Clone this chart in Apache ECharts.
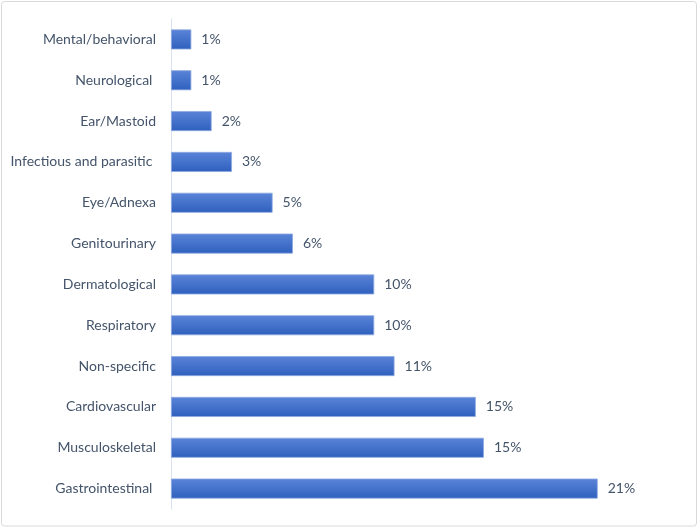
<!DOCTYPE html>
<html>
<head>
<meta charset="utf-8">
<script src="https://cdn.jsdelivr.net/npm/echarts@6/dist/echarts.min.js"></script>
<style>
html,body{margin:0;padding:0;background:#fff;}
#c{width:698px;height:528px;}
</style>
</head>
<body>
<div id="c"></div>
<script>
const categories = ["Mental/behavioral", "Neurological ", "Ear/Mastoid", "Infectious and parasitic ", "Eye/Adnexa", "Genitourinary", "Dermatological", "Respiratory", "Non-specific", "Cardiovascular", "Musculoskeletal", "Gastrointestinal "];
const values = [1, 1, 2, 3, 5, 6, 10, 10, 11, 15, 15.4, 21];

const chart = echarts.init(document.getElementById('c'));
chart.setOption({
  animation: false,
  graphic: [{
    type: 'rect',
    shape: {x: 1.5, y: 1.5, width: 695, height: 524.5, r: 3},
    style: {fill: 'none', stroke: '#d9d9d9', lineWidth: 1},
    silent: true
  }],
  grid: {left: 171, top: 19, width: 508, height: 490, containLabel: false},
  xAxis: {
    type: 'value', min: 0, max: 25, show: false,
    splitLine: {show: false}
  },
  yAxis: {
    type: 'category', data: categories, inverse: true,
    axisLine: {show: true, lineStyle: {color: '#d9e1f2', width: 1}},
    axisTick: {show: false},
    axisLabel: {color: '#44546a', fontFamily: 'Lato', fontSize: 14, margin: 15}
  },
  series: [{
    type: 'bar',
    data: values,
    barWidth: 20,
    itemStyle: {
      color: new echarts.graphic.LinearGradient(0, 0, 0, 1, [
        {offset: 0, color: '#5a84d8'},
        {offset: 1, color: '#2f60be'}
      ]),
      borderColor: '#8eaadf',
      borderWidth: 0.8
    },
    label: {
      show: true, position: 'right', distance: 10,
      color: '#44546a', fontFamily: 'Lato', fontSize: 14,
      formatter: p => Math.round(p.value) + '%'
    }
  }]
});
</script>
</body>
</html>
